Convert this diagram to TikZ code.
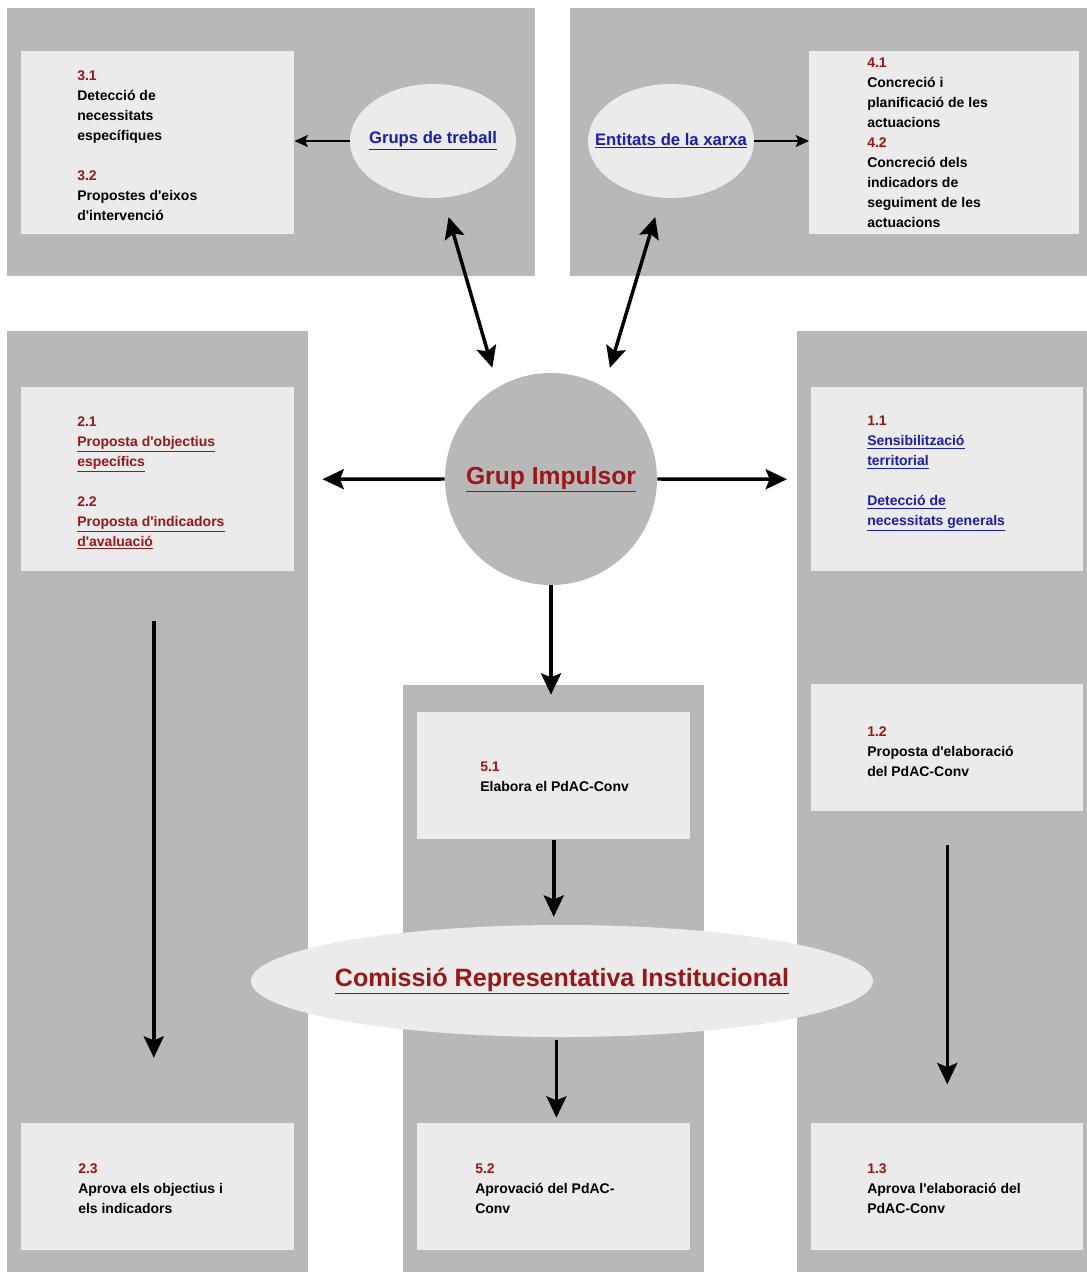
\documentclass[tikz,border=0pt]{standalone}
\usepackage{fontspec}
\setmainfont{Liberation Sans}
\usetikzlibrary{arrows.meta,shapes.geometric}

\definecolor{panelgray}{RGB}{184,184,184}
\definecolor{boxgray}{RGB}{235,235,235}
\definecolor{dred}{RGB}{155,22,22}
\definecolor{lblue}{RGB}{28,28,178}
\newcommand{\ap}{\textquotesingle}

\begin{document}
\begin{tikzpicture}[
  x=0.75pt, y=-0.75pt,
  panel/.style={fill=panelgray,anchor=north west,inner sep=0pt},
  tbox/.style={fill=boxgray,anchor=north west,inner sep=0pt,minimum width=204.75pt},
  txt/.style={anchor=north west,align=left,inner sep=0pt,font=\bfseries\fontsize{10.5}{15}\selectfont},
  onode/.style={ellipse,fill=boxgray,inner ysep=0pt,minimum width=124.5pt,minimum height=85.5pt,
    text=lblue,font=\bfseries\fontsize{12.5}{15}\selectfont},
  bigarr/.style={line width=2.6pt,-{Stealth[length=16pt,width=15pt,inset=3pt]}},
  dblarr/.style={line width=2.6pt,{Stealth[length=16pt,width=15pt,inset=3pt]}-{Stealth[length=16pt,width=15pt,inset=3pt]}},
  smallarr/.style={line width=1.3pt,-{Stealth[length=10pt,width=9pt,inset=2pt]}}
]
  \path[use as bounding box,fill=white] (0,0) rectangle (1087,1272);

  % panels
  \node[panel,minimum width=396pt,minimum height=201pt] (p3) at (7,8) {};
  \node[panel,minimum width=387.75pt,minimum height=201pt] (p4) at (570,8) {};
  \node[panel,minimum width=225.75pt,minimum height=705.75pt] (p2) at (7,331) {};
  \node[panel,minimum width=217.5pt,minimum height=705.75pt] (p1) at (797,331) {};
  \node[panel,minimum width=225.75pt,minimum height=440.25pt] (p5) at (403,685) {};

  % boxes
  \node[tbox,minimum height=137.25pt] (b3) at (21,51) {};
  \node[tbox,minimum width=202.5pt,minimum height=137.25pt] (b4) at (809,51) {};
  \node[tbox,minimum height=138pt] (b2) at (21,387) {};
  \node[tbox,minimum height=95.25pt] (b23) at (21,1123) {};
  \node[tbox,minimum width=204pt,minimum height=138pt] (b11) at (811,387) {};
  \node[tbox,minimum width=204pt,minimum height=95.25pt] (b12) at (811,684) {};
  \node[tbox,minimum width=204pt,minimum height=95.25pt] (b13) at (811,1123) {};
  \node[tbox,minimum height=95.25pt] (b51) at (417,712) {};
  \node[tbox,minimum height=95.25pt] (b52) at (417,1123) {};

  % texts
  \node[txt] (t3) at (77,70) {\textcolor{dred}{3.1}\\ Detecció de\\ necessitats\\ específiques\\[15pt]
    \textcolor{dred}{3.2}\\ Propostes d\ap eixos\\ d\ap intervenció};
  \node[txt] (t4) at (867,58) {\textcolor{dred}{4.1}\\ Concreció i\\ planificació de les\\ actuacions\\
    \textcolor{dred}{4.2}\\ Concreció dels\\ indicadors de\\ seguiment de les\\ actuacions};
  \node[txt,text=dred] (t2) at (77,416) {2.1\\ \underline{Proposta d\ap objectius}\\ \underline{específics}\\[15pt]
    2.2\\ \underline{Proposta d\ap indicadors}\\ \underline{d\ap avaluació}};
  \node[txt,text=lblue] (t11) at (867,416) {\textcolor{dred}{1.1}\\ \underline{Sensibilització}\\ \underline{territorial}\\[15pt]
    \underline{Detecció de}\\ \underline{necessitats generals}};
  \node[txt] (t12) at (867,726) {\textcolor{dred}{1.2}\\ Proposta d\ap elaboració\\ del PdAC-Conv};
  \node[txt] (t51) at (480,762) {\textcolor{dred}{5.1}\\ Elabora el PdAC-Conv};
  \node[txt] (t23) at (78,1163) {\textcolor{dred}{2.3}\\ Aprova els objectius i\\ els indicadors};
  \node[txt] (t52) at (475,1163) {\textcolor{dred}{5.2}\\ Aprovació del PdAC-\\ Conv};
  \node[txt] (t13) at (867,1163) {\textcolor{dred}{1.3}\\ Aprova l\ap elaboració del\\ PdAC-Conv};

  % groups
  \node[onode,inner xsep=-5pt] (grups) at (433,141) {\underline{Grups de treball}};
  \node[onode,inner xsep=-14pt] (entitats) at (671,141) {\underline{Entitats de la xarxa}};
  \node[circle,fill=panelgray,inner sep=0pt,minimum size=159pt,text=dred,
    font=\bfseries\fontsize{18.5}{20}\selectfont] (impulsor) at (551,479) {\underline{Grup Impulsor}};
  \node[ellipse,fill=boxgray,inner xsep=-12pt,inner ysep=0pt,minimum width=466.5pt,minimum height=84pt,text=dred,
    font=\bfseries\fontsize{18.8}{20}\selectfont] (comissio) at (562,981) {\underline{Comissió Representativa Institucional}};

  % edges
  \draw[smallarr] (grups.west) -- (grups.west -| b3.east);
  \draw[smallarr] (entitats.east) -- (entitats.east -| b4.west);
  \draw[dblarr,shorten <=15pt,shorten >=15pt] (grups.-80) -- (impulsor.120);
  \draw[dblarr,shorten <=15pt,shorten >=15pt] (entitats.-100) -- (impulsor.60);
  \draw[bigarr,shorten >=21pt] (impulsor.west) -- (b2.east);
  \draw[bigarr,shorten >=18pt] (impulsor.east) -- (b11.west);
  \draw[bigarr,shorten >=13pt] (impulsor.south) -- (impulsor.south |- b51.north);
  \draw[bigarr,shorten >=6pt] (b51.south) -- (b51.south |- comissio.north);
  \draw[bigarr,shorten <=2pt,shorten >=4pt] ([xshift=2pt]b52.north |- comissio.south) -- ([xshift=2pt]b52.north);
  \draw[bigarr,shorten <=37pt,shorten >=49pt] ([xshift=-3pt]b2.south) -- ([xshift=-3pt]b23.north);
  \draw[bigarr,shorten <=25pt,shorten >=29pt] (b12.south) -- (b13.north);
\end{tikzpicture}
\end{document}
